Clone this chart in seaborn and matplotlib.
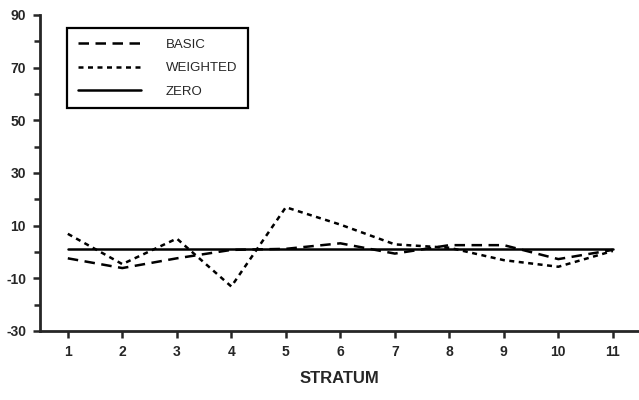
import seaborn as sns
import matplotlib.pyplot as plt
from matplotlib.ticker import MultipleLocator
import pandas as pd

# --- Data ---
strata = [1, 2, 3, 4, 5, 6, 7, 8, 9, 10, 11]
basic = [-2.4, -6.1, -2.4, 0.8, 1.2, 3.3, -0.6, 2.6, 2.6, -2.7, 0.8]
weighted = [6.9, -4.6, 5.1, -13.1, 17.0, 10.4, 2.9, 1.6, -3.1, -5.6, 0.4]
zero = [1] * len(strata)

df = pd.concat([
    pd.DataFrame({"STRATUM": strata, "value": basic, "series": "BASIC"}),
    pd.DataFrame({"STRATUM": strata, "value": weighted, "series": "WEIGHTED"}),
    pd.DataFrame({"STRATUM": strata, "value": zero, "series": "ZERO"}),
])

# --- Styling ---
sns.set_style("ticks")
plt.rcParams["font.family"] = ["Liberation Sans", "DejaVu Sans"]
plt.rcParams["axes.unicode_minus"] = False

fig = plt.figure(figsize=(6.39, 4.0), dpi=100)
ax = fig.add_axes([0.0626, 0.1725, 0.9374, 0.79])

sns.lineplot(
    data=df, x="STRATUM", y="value", style="series",
    dashes={"BASIC": (4.2, 2.6), "WEIGHTED": (2.0, 1.8), "ZERO": ""},
    color="black", linewidth=1.8, ax=ax,
)

ax.set_xlim(0.49, 11.48)
ax.set_ylim(-30, 90)
ax.set_xticks(strata)
ax.set_yticks(range(-30, 91, 20))
ax.yaxis.set_minor_locator(MultipleLocator(10))
ax.tick_params(axis="both", which="major", direction="out", length=5, width=1.8,
               labelsize=10, pad=5)
ax.tick_params(axis="y", which="minor", direction="out", length=4, width=1.8)
for lbl in ax.get_xticklabels() + ax.get_yticklabels():
    lbl.set_fontweight("bold")

sns.despine(ax=ax)
for side in ("left", "bottom"):
    ax.spines[side].set_linewidth(2.0)

ax.set_ylabel("")
ax.set_xlabel("STRATUM", fontsize=12, fontweight="bold", labelpad=9)

leg = ax.legend(loc="upper left", bbox_to_anchor=(0.045, 0.959), borderaxespad=0,
                fontsize=9.5, frameon=True, fancybox=False, handlelength=4.8,
                handletextpad=1.9, borderpad=0.8, labelspacing=0.85)
leg.get_frame().set_edgecolor("black")
leg.get_frame().set_linewidth(1.6)
leg.get_frame().set_alpha(1)

plt.savefig("out.png", dpi=100)
plt.close()
